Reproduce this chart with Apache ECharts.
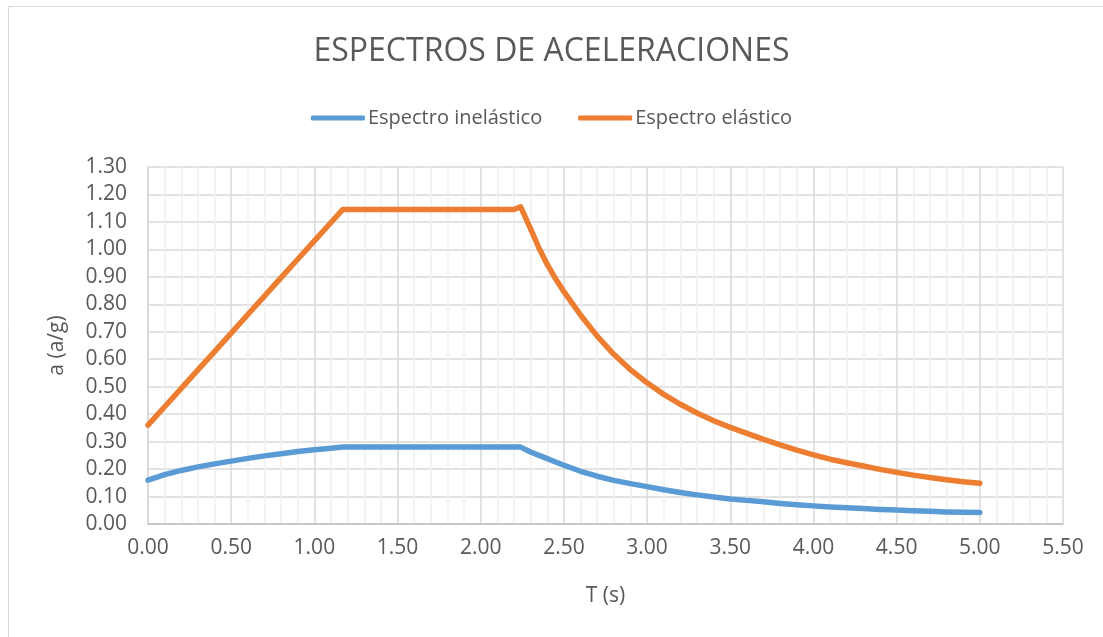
<!DOCTYPE html>
<html>
<head>
<meta charset="utf-8">
<script src="https://cdn.jsdelivr.net/npm/echarts@6/dist/echarts.min.js"></script>
<style>
html,body{margin:0;padding:0;background:#fff;}
#chart{width:1103px;height:637px;}
</style>
</head>
<body>
<div id="chart"></div>
<script>
// Period T (s)
var periods = [0.00,0.10,0.20,0.30,0.40,0.50,0.60,0.70,0.80,0.90,1.00,1.10,1.17,1.20,1.30,1.40,1.50,1.60,1.70,1.80,1.90,2.00,2.10,2.20,2.24,2.30,2.35,2.40,2.45,2.50,2.60,2.70,2.80,2.90,3.00,3.10,3.20,3.30,3.40,3.50,3.60,3.70,3.80,3.90,4.00,4.10,4.20,4.30,4.40,4.50,4.60,4.70,4.80,4.90,5.00];
var inelastic = [0.160,0.180,0.195,0.208,0.219,0.229,0.239,0.248,0.256,0.264,0.270,0.276,0.280,0.280,0.280,0.280,0.280,0.280,0.280,0.280,0.280,0.280,0.280,0.280,0.280,0.262,0.250,0.238,0.226,0.214,0.192,0.174,0.159,0.147,0.136,0.125,0.115,0.106,0.098,0.091,0.086,0.081,0.075,0.070,0.066,0.062,0.059,0.056,0.053,0.051,0.048,0.046,0.044,0.043,0.042];
var elastic = [0.360,0.427,0.494,0.561,0.628,0.695,0.763,0.830,0.897,0.964,1.031,1.098,1.145,1.145,1.145,1.145,1.145,1.145,1.145,1.145,1.145,1.145,1.145,1.145,1.155,1.075,1.005,0.945,0.893,0.846,0.761,0.684,0.618,0.562,0.514,0.472,0.436,0.404,0.376,0.352,0.330,0.308,0.288,0.269,0.252,0.236,0.223,0.211,0.199,0.188,0.178,0.169,0.161,0.154,0.148];
var seriesNames = ['Espectro inelástico','Espectro elástico'];
var titleText = 'ESPECTROS DE ACELERACIONES';
var xAxisName = 'T (s)';
var yAxisName = 'a (a/g)';

function pairs(xs, ys){ return xs.map(function(x,i){ return [x, ys[i]]; }); }

var chart = echarts.init(document.getElementById('chart'), null, {renderer:'canvas'});
var FONT = '"Open Sans", sans-serif';
var TXT = '#595959';
chart.setOption({
  animation:false,
  backgroundColor:'#ffffff',
  textStyle:{fontFamily:FONT},
  graphic:[{type:'rect', shape:{x:8.5,y:6.5,width:1200,height:700}, style:{fill:'none', stroke:'#d9d9d9', lineWidth:1}, silent:true}],
  title:{text:titleText, left:'center', top:31, textStyle:{fontFamily:FONT, fontSize:32, fontWeight:'normal', color:TXT}},
  legend:{top:103, left:'center', itemWidth:54, itemHeight:5, itemGap:36, icon:'roundRect',
    textStyle:{fontFamily:FONT, fontSize:20, color:TXT, padding:[0,0,0,-2]}, data:seriesNames},
  grid:{left:148, right:40, top:167, bottom:113, containLabel:false},
  xAxis:{type:'value', min:0, max:5.5, interval:0.5, name:xAxisName, nameLocation:'middle', nameGap:62,
    nameTextStyle:{fontFamily:FONT, fontSize:21, color:TXT},
    axisLine:{show:true, lineStyle:{color:'#bfbfbf', width:1.5}}, axisTick:{show:false},
    axisLabel:{fontFamily:FONT, fontSize:21, color:TXT, margin:14, formatter:function(v){return v.toFixed(2);}},
    splitLine:{show:true, lineStyle:{color:'#d9d9d9', width:1.5}},
    minorTick:{show:false, splitNumber:5},
    minorSplitLine:{show:true, lineStyle:{color:'#efefef', width:1.5}}},
  yAxis:{type:'value', min:0, max:1.3, interval:0.1, name:yAxisName, nameLocation:'middle', nameGap:80,
    nameTextStyle:{fontFamily:FONT, fontSize:21, color:TXT},
    axisLine:{show:true, lineStyle:{color:'#d9d9d9', width:1.5}}, axisTick:{show:false},
    axisLabel:{fontFamily:FONT, fontSize:21, color:TXT, margin:21, formatter:function(v){return v.toFixed(2);}},
    splitLine:{show:true, lineStyle:{color:'#d9d9d9', width:1.5}}},
  series:[
    {name:seriesNames[0], type:'line', data:pairs(periods, inelastic), showSymbol:false, symbol:'none',
      lineStyle:{color:'#5B9BD5', width:5.5, cap:'round', join:'round'}, itemStyle:{color:'#5B9BD5'}},
    {name:seriesNames[1], type:'line', data:pairs(periods, elastic), showSymbol:false, symbol:'none',
      lineStyle:{color:'#ED7D31', width:5.5, cap:'round', join:'round'}, itemStyle:{color:'#ED7D31'}}
  ]
});
</script>
</body>
</html>
